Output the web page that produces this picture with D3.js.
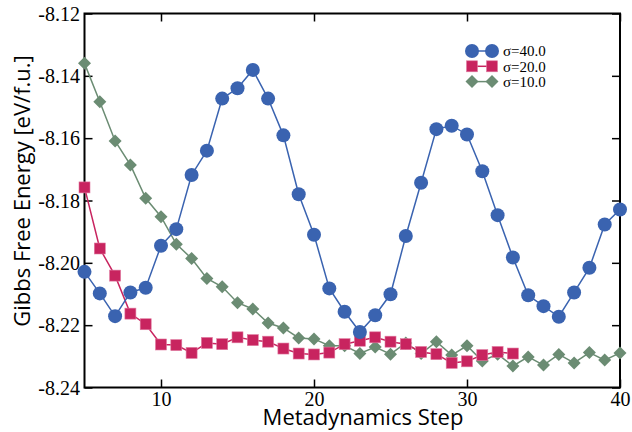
<!DOCTYPE html>
<html>
<head>
<meta charset="utf-8">
<script src="https://cdn.jsdelivr.net/npm/d3@7"></script>
<style>
  html, body { margin: 0; padding: 0; background: #fff; }
  svg { display: block; }
  .ticklabel { font-family: "Liberation Serif", "Times New Roman", serif; font-size: 20px; }
</style>
</head>
<body>
<svg id="chart" width="632" height="432"></svg>
<script>
// Metadynamics steps (x axis)
const steps = d3.range(5, 41);
const stepsShort = d3.range(5, 34);

// Gibbs free energy [eV/f.u.] per Gaussian width
const sigma40 = [
  -8.2029, -8.2098, -8.2171, -8.2095, -8.2080, -8.1945, -8.1892, -8.1718,
  -8.1640, -8.1473, -8.1440, -8.1381, -8.1473, -8.1591, -8.1780, -8.1910,
  -8.2082, -8.2157, -8.2222, -8.2168, -8.2101, -8.1914, -8.1743, -8.1571,
  -8.1560, -8.1588, -8.1706, -8.1847, -8.1983, -8.2104, -8.2139, -8.2173,
  -8.2095, -8.2016, -8.1877, -8.1829
];
const sigma20 = [
  -8.1758, -8.1954, -8.2041, -8.2163, -8.2197, -8.2262, -8.2264, -8.2289,
  -8.2257, -8.2261, -8.2239, -8.2248, -8.2253, -8.2275, -8.2291, -8.2294,
  -8.2288, -8.2261, -8.2250, -8.2239, -8.2253, -8.2261, -8.2286, -8.2293,
  -8.2321, -8.2316, -8.2296, -8.2286, -8.2291
];
const sigma10 = [
  -8.1360, -8.1483, -8.1609, -8.1686, -8.1793, -8.1852, -8.1940, -8.1986,
  -8.2050, -8.2077, -8.2128, -8.2148, -8.2193, -8.2209, -8.2241, -8.2244,
  -8.2266, -8.2266, -8.2291, -8.2270, -8.2293, -8.2257, -8.2291, -8.2253,
  -8.2296, -8.2266, -8.2315, -8.2293, -8.2331, -8.2302, -8.2328, -8.2294,
  -8.2321, -8.2288, -8.2312, -8.2289
];

const xTicks = [10, 20, 30, 40];
const yTicks = [-8.24, -8.22, -8.20, -8.18, -8.16, -8.14, -8.12];
const legendLabels = ["σ=40.0", "σ=20.0", "σ=10.0"];

const series = [
  { label: legendLabels[0], xs: steps, ys: sigma40, color: "#3a63b0", shape: "circle" },
  { label: legendLabels[1], xs: stepsShort, ys: sigma20, color: "#c8245f", shape: "square" },
  { label: legendLabels[2], xs: steps, ys: sigma10, color: "#6b8c73", shape: "diamond" }
];

const svg = d3.select("#chart");
const m = { left: 84.5, right: 620, top: 13.5, bottom: 387.5 };

const x = d3.scaleLinear().domain([5, 40]).range([m.left, m.right]);
const y = d3.scaleLinear().domain([-8.24, -8.12]).range([m.bottom, m.top]);

const serif = "'Liberation Serif', 'Times New Roman', serif";
const sans = "'Open Sans', 'DejaVu Sans', sans-serif";

// Axes with inward ticks on all four sides
const tickLen = 8;
const axBottom = svg.append("g").attr("transform", `translate(0,${m.bottom})`)
  .call(d3.axisBottom(x).tickValues(xTicks).tickSize(-tickLen).tickPadding(4).tickFormat(d => String(d)));
const axTop = svg.append("g").attr("transform", `translate(0,${m.top})`)
  .call(d3.axisTop(x).tickValues(xTicks).tickSize(-tickLen).tickFormat(""));
const axLeft = svg.append("g").attr("transform", `translate(${m.left},0)`)
  .call(d3.axisLeft(y).tickValues(yTicks).tickSize(-tickLen).tickPadding(4.5).tickFormat(d => d.toFixed(2)));
const axRight = svg.append("g").attr("transform", `translate(${m.right},0)`)
  .call(d3.axisRight(y).tickValues(yTicks).tickSize(-tickLen).tickFormat(""));

[axBottom, axTop, axLeft, axRight].forEach(g => {
  g.attr("font-family", null).attr("font-size", null);
  g.select(".domain").remove();
  g.selectAll(".tick line").attr("stroke", "#000").attr("stroke-width", 1.5);
  g.selectAll(".tick text").attr("class", "ticklabel").attr("fill", "#000");
});
axLeft.selectAll(".tick text").attr("dy", "0.33em");

// Frame
svg.append("rect")
  .attr("x", m.left).attr("y", m.top)
  .attr("width", m.right - m.left).attr("height", m.bottom - m.top)
  .attr("fill", "none").attr("stroke", "#000").attr("stroke-width", 2);

// Marker drawing
function marker(g, shape, color) {
  if (shape === "circle") {
    g.append("circle").attr("r", 7).attr("fill", color);
  } else if (shape === "square") {
    g.append("rect").attr("x", -5.5).attr("y", -5.5).attr("width", 11).attr("height", 11)
      .attr("fill", color).attr("stroke", "#e07aa0").attr("stroke-width", 0.6);
  } else {
    g.append("path").attr("d", "M0,-6.5L6.5,0L0,6.5L-6.5,0Z").attr("fill", color);
  }
}

const line = d3.line().x(d => x(d[0])).y(d => y(d[1]));

// Draw in reverse so σ=40 sits on top
series.slice().reverse().forEach(s => {
  const pts = s.xs.map((v, i) => [v, s.ys[i]]);
  const g = svg.append("g");
  g.append("path").datum(pts).attr("d", line)
    .attr("fill", "none").attr("stroke", s.color).attr("stroke-width", 1.5);
  g.selectAll("g.pt").data(pts).join("g").attr("class", "pt")
    .attr("transform", d => `translate(${x(d[0])},${y(d[1])})`)
    .each(function () { marker(d3.select(this), s.shape, s.color); });
});

// Legend
const lg = svg.append("g");
series.forEach((s, i) => {
  const ly = 51 + i * 15.3;
  const row = lg.append("g");
  row.append("line").attr("x1", 472).attr("x2", 492).attr("y1", ly).attr("y2", ly)
    .attr("stroke", s.color).attr("stroke-width", 1.5);
  [472, 492].forEach(px => {
    const mg = row.append("g").attr("transform", `translate(${px},${ly})`);
    marker(mg, s.shape, s.color);
  });
  row.append("text").attr("x", 503).attr("y", ly).attr("dy", "0.35em")
    .style("font-family", serif).style("font-size", "15px").attr("fill", "#000").text(s.label);
});

// Axis titles
svg.append("text")
  .attr("x", 363).attr("y", 425)
  .attr("text-anchor", "middle").style("font-family", sans).style("font-size", "22px")
  .attr("fill", "#000").text("Metadynamics Step");
svg.append("text")
  .attr("transform", "translate(30,191) rotate(-90)")
  .attr("text-anchor", "middle").style("font-family", sans).style("font-size", "22px")
  .attr("fill", "#000").text("Gibbs Free Energy [eV/f.u.]");
</script>
</body>
</html>
